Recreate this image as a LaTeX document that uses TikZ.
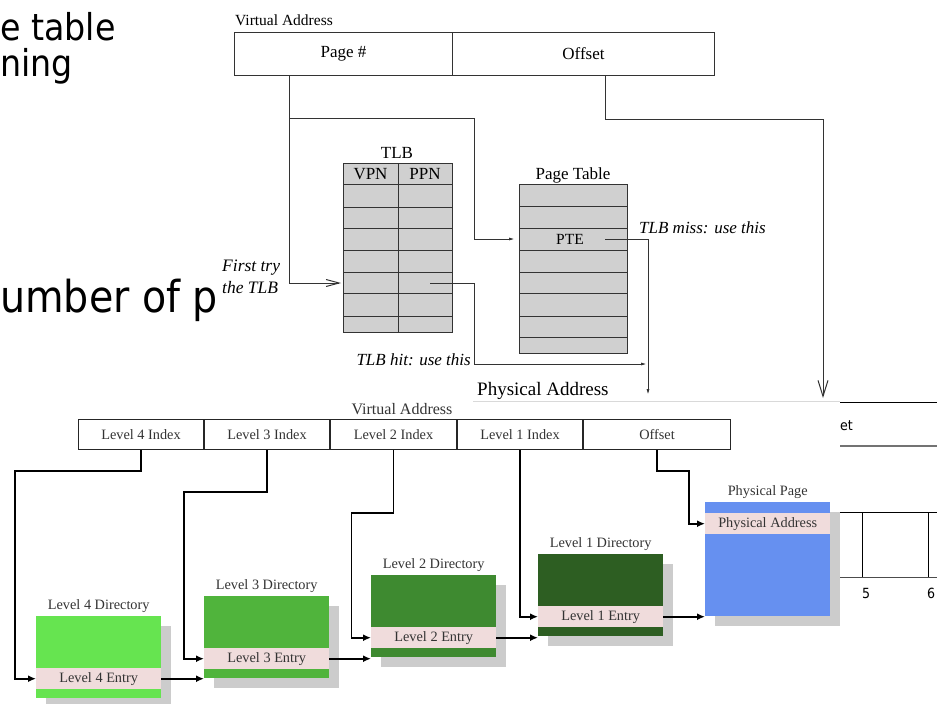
\documentclass[tikz,border=0pt]{standalone}
\usepackage{fontspec}
\setmainfont{Liberation Serif}
\newfontfamily\slidefont[FakeStretch=0.9]{DejaVu Sans}
\usetikzlibrary{arrows.meta,calc}

\definecolor{tblgray}{RGB}{208,208,208}
\definecolor{inkgray}{RGB}{51,51,51}
\definecolor{lvfour}{RGB}{102,228,80}
\definecolor{lvthree}{RGB}{80,180,60}
\definecolor{lvtwo}{RGB}{62,138,48}
\definecolor{lvone}{RGB}{45,94,34}
\definecolor{ppblue}{RGB}{102,144,240}
\definecolor{entrypink}{RGB}{240,220,220}
\definecolor{shadowgray}{RGB}{204,204,204}

\tikzset{
  fig/.style={inner sep=0, font=\fontsize{17}{20}\selectfont},
  figit/.style={inner sep=0, font=\fontsize{17}{20}\selectfont\itshape},
  vacell/.style={draw=inkgray, line width=1pt, minimum height=43, anchor=north west, inner sep=0, font=\fontsize{17}{20}\selectfont},
  wire/.style={draw=inkgray, line width=1pt},
  smallhead/.style={-{Latex[length=6pt,width=3pt]}},
  barbhead/.style={-{Straight Barb[length=13pt,width=7pt]}},
  vhead/.style={-{Straight Barb[length=16pt,width=10pt]}},
  idxcell/.style={draw=black!85, line width=1pt, minimum height=30, anchor=north west, inner sep=0, text=inkgray, font=\fontsize{14.3}{16}\selectfont},
  lvbox/.style={minimum width=125, minimum height=82, anchor=north west, inner sep=0},
  lvband/.style={fill=entrypink, minimum width=125, minimum height=21, anchor=north west, inner sep=0, text=inkgray, font=\fontsize{14.3}{16}\selectfont},
  lvtitle/.style={anchor=base, inner sep=0, text=inkgray, font=\fontsize{14.3}{16}\selectfont},
  link/.style={line width=1.9pt, -{Latex[length=8pt,width=7pt]}},
  slidebig/.style={anchor=base west, inner sep=0, font=\slidefont\fontsize{44}{50}\selectfont},
  slidesmall/.style={anchor=base west, inner sep=0, font=\slidefont\fontsize{37}{44}\selectfont},
  slidetiny/.style={inner sep=0, font=\slidefont\fontsize{14}{16}\selectfont},
}

% directory box: name, x, y, fill, title, entry text
\newcommand\levelbox[6]{%
  \fill[shadowgray] (#2+10,#3+10) rectangle ++(125,82);
  \node[lvbox, fill=#4] (#1) at (#2,#3) {};
  \node[lvband] (#1e) at ($(#1.north west)+(0,52)$) {#6};
  \node[lvtitle] (#1t) at ([yshift=7pt]#1.north) {#5};
}

\begin{document}
\begin{tikzpicture}[x=1pt,y=-1pt]
\useasboundingbox[fill=white] (0,0) rectangle (937,704);

% ---- slide text behind the figures ----
\begin{scope}
  \clip (0,0) rectangle (219,400);
  \node[slidesmall] (s1) at (0,40) {e table};
  \node[slidesmall] (s2) at (0,76) {ning};
  \node[slidebig] (s3) at (0,312) {umber of pa};
\end{scope}

% ---- TLB lookup figure ----
\node[fig, anchor=base west, font=\fontsize{15.5}{18}\selectfont] (vat) at (235,25) {Virtual Address};
\node[vacell, minimum width=218] (pagecell) at (234,32) {Page \#};
\node[vacell, minimum width=262] (offcell) at (452,32) {Offset};

% TLB
\node[fig, anchor=base] (tlbt) at (397,158) {TLB};
\node[draw=inkgray, fill=tblgray, line width=1pt, minimum width=109, minimum height=169, anchor=north west, inner sep=0] (tlb) at (343,163) {};
\draw[inkgray, line width=1pt] (398,163) -- (398,332);
\foreach \yy in {184,207,228,250,272,293,316}
  \draw[inkgray, line width=1pt] (343,\yy) -- (452,\yy);
\node[fig] (vpn) at (370.5,174) {VPN};
\node[fig] (ppn) at (425,174) {PPN};

% Page table
\node[fig, anchor=base] (ptt) at (573,179) {Page Table};
\node[draw=inkgray, fill=tblgray, line width=1pt, minimum width=108, minimum height=169, anchor=north west, inner sep=0] (pt) at (519,184) {};
\foreach \yy in {206,228,250,272,293,316,337}
  \draw[inkgray, line width=1pt] (519,\yy) -- (627,\yy);
\node[inner sep=0, font=\fontsize{15.5}{18}\selectfont] (pte) at (570,239) {PTE};

% labels
\node[figit, anchor=base west] (miss) at (639,233) {TLB miss: use this};
\node[figit, anchor=base west, font=\fontsize{17.5}{20}\selectfont\itshape] (try1) at (222,271) {First try};
\node[figit, anchor=base west, font=\fontsize{17.5}{20}\selectfont\itshape] (try2) at (222,293) {the TLB};
\node[figit, anchor=base east] (hit) at (471,365) {TLB hit: use this};
\node[inner sep=0, anchor=base west, font=\fontsize{19}{22}\selectfont] (pa) at (477,395) {Physical Address};

% connector end points
\coordinate (pgout) at (289,75);
\coordinate (pgsplit) at (289,118);
\coordinate (tlbin) at (341,283);
\coordinate (ptin) at (515,239);
\coordinate (offout) at (605,75);
\coordinate (paoff) at (823,398);
\coordinate (pteout) at (605,239);
\coordinate (pain) at (648,395);
\coordinate (hitout) at (430,283);
\coordinate (hitin) at (647,364);

\draw[wire, barbhead] (pgout) |- (tlbin);
\draw[wire, smallhead] (pgsplit) -| ([xshift=-41pt]ptin) -- (ptin);
\draw[wire, vhead] (offout) -- ++(0,44) -| (paoff);
\draw[wire, smallhead] (pteout) -| (pain);
\draw[wire, smallhead] (hitout) -- ++(44,0) |- (hitin);

% ---- multi-level page table figure ----
\draw[black!15, line width=0.8pt] (473,401) -- (840,401);
\node[lvtitle, font=\fontsize{16}{18}\selectfont] (vab) at (402,414) {Virtual Address};
\node[idxcell, minimum width=125] (l4i) at (78,419) {Level 4 Index};
\node[idxcell, minimum width=125] (l3i) at (l4i.north east) {Level 3 Index};
\node[idxcell, minimum width=126] (l2i) at (l3i.north east) {Level 2 Index};
\node[idxcell, minimum width=125] (l1i) at (l2i.north east) {Level 1 Index};
\node[idxcell, minimum width=147] (offi) at (l1i.north east) {Offset};

\levelbox{l4}{36}{616}{lvfour}{Level 4 Directory}{Level 4 Entry}
\levelbox{l3}{204}{596}{lvthree}{Level 3 Directory}{Level 3 Entry}
\levelbox{l2}{371}{575}{lvtwo}{Level 2 Directory}{Level 2 Entry}
\levelbox{l1}{538}{554}{lvone}{Level 1 Directory}{Level 1 Entry}

% physical page
\fill[shadowgray] (715,512) rectangle ++(125,114);
\node[lvbox, minimum height=114, fill=ppblue] (pp) at (705,502) {};
\node[lvband] (ppe) at ($(pp.north west)+(0,11)$) {Physical Address};
\node[lvtitle] (ppt) at ([yshift=7pt]pp.north) {Physical Page};

% index links
\draw[link] (l4i.south) -- ++(0,21) -- ++(-126,0) |- (l4e.west);
\draw[link] (l3i.south) -- ++(0,42) -- ++(-83,0) |- (l3e.west);
\draw[link] (l2i.south) -- ++(0,63) -- ++(-42,0) |- (l2e.west);
\draw[link] (l1i.south) |- (l1e.west);
\draw[link] (offi.south) -- ++(0,21) -- ++(32,0) |- (ppe.west);

% entry links
\draw[link] (l4e.east) -- (l4e.east -| l3.west);
\draw[link] (l3e.east) -- (l3e.east -| l2.west);
\draw[link] (l2e.east) -- (l2e.east -| l1.west);
\draw[link] (l1e.east) -- (l1e.east -| pp.west);

% ---- slide content at the right edge ----
\draw[black, line width=1pt] (840,402) -- (937,402);
\node[slidetiny, anchor=base west] (et) at (840,430) {et};
\draw[black!55, line width=1.5pt] (840,446) -- (937,446);
\draw[black, line width=1pt] (840,512) -- (937,512);
\draw[black!70, line width=1pt] (840,577) -- (937,577);
\draw[black, line width=1pt] (862,512) -- (862,577);
\draw[black, line width=1pt] (928,512) -- (928,577);
\node[slidetiny, anchor=base] (n5) at (866,598) {5};
\node[slidetiny, anchor=base] (n6) at (931,598) {6};
\end{tikzpicture}
\end{document}
